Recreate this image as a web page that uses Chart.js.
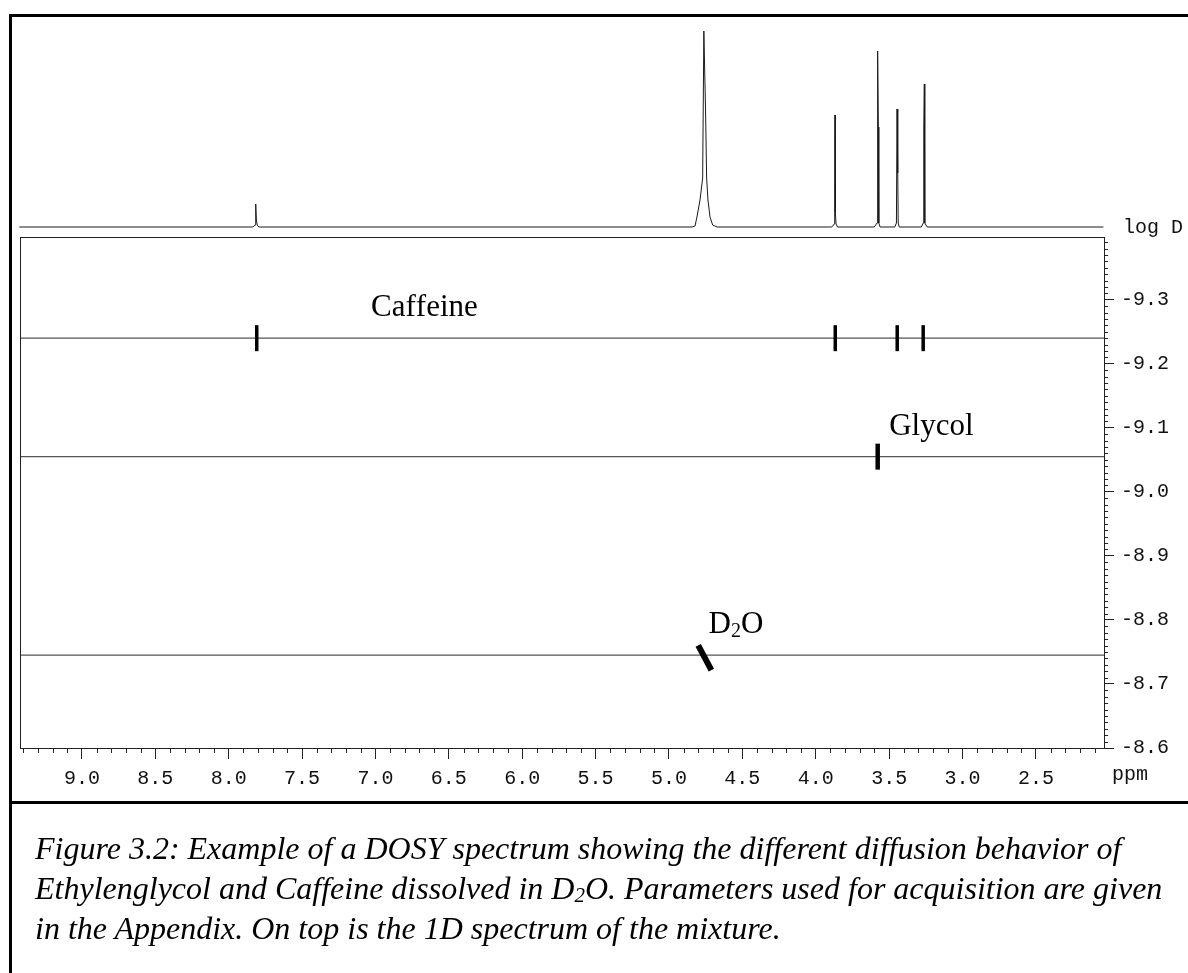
<!DOCTYPE html>
<html>
<head>
<meta charset="utf-8">
<title>DOSY spectrum</title>
<script src="https://cdn.jsdelivr.net/npm/chart.js@4.4.1/dist/chart.umd.min.js"></script>
<style>
    html, body { margin: 0; padding: 0; background: #fff; }
    body { width: 1188px; height: 973px; position: relative; overflow: hidden; }
    #dosyChart { position: absolute; left: 0; top: 0; }
    #spectrumChart { position: absolute; left: 19px; top: 17px; }
    .frame { position: absolute; background: #000; }
    #frameTop { left: 9px; top: 14px; width: 1179px; height: 3px; }
    #frameLeft { left: 9px; top: 14px; width: 3px; height: 959px; }
    #frameDivider { left: 9px; top: 801px; width: 1179px; height: 3px; }
    #caption {
        position: absolute; left: 35px; top: 828px;
        font: italic 32px 'Liberation Serif', 'Times New Roman', serif;
        line-height: 40px; color: #000; white-space: nowrap;
    }
    #caption sub { font-size: 21px; line-height: 0; vertical-align: -3px; }
</style>
</head>
<body>
<div class="frame" id="frameTop"></div>
<div class="frame" id="frameLeft"></div>
<div class="frame" id="frameDivider"></div>
<canvas id="spectrumChart" width="1085" height="212"></canvas>
<canvas id="dosyChart" width="1188" height="973"></canvas>
<div id="caption">
    Figure 3.2: Example of a DOSY spectrum showing the different diffusion behavior of<br>
    Ethylenglycol and Caffeine dissolved in D<sub>2</sub>O. Parameters used for acquisition are given<br>
    in the Appendix. On top is the 1D spectrum of the mixture.
</div>

<script>
// ========================================
// DATA
// ========================================

// Axis ranges (ppm runs right-to-left, log D grows downwards)
const PPM_LEFT = 9.422;
const PPM_RIGHT = 2.036;
const LOGD_TOP = -9.398;
const LOGD_BOTTOM = -8.6;

// Species and their diffusion coefficients (log D)
const speciesNames = ['Caffeine', 'Glycol', 'D2O'];
const speciesLogD = [-9.24, -9.055, -8.745];
const labelPpm = [7.03, 3.50, 4.73];

// Cross peaks in the 2D DOSY map
const caffeinePeakPpm = [7.809, 3.867, 3.445, 3.268];
const glycolPeakPpm = [3.578];
const waterPeakPpm = [4.756];
const waterPeakLogD = -8.741;

// 1D proton spectrum shown on top (ppm, intensity)
const spectrumPpm = [
    9.42, 7.83, 7.815, 7.812, 7.809, 7.806, 7.80, 7.79,
    4.84, 4.820, 4.807, 4.786, 4.768, 4.760, 4.748, 4.741, 4.732, 4.718, 4.700, 4.67,
    3.89, 3.872, 3.869, 3.867, 3.865, 3.860, 3.85,
    3.60, 3.581, 3.577, 3.572, 3.569, 3.56,
    3.46, 3.449, 3.445, 3.440, 3.437, 3.43,
    3.28, 3.266, 3.263, 3.259, 3.256, 3.24,
    2.04
];
const spectrumIntensity = [
    0, 0, 2, 7, 23, 7, 2, 0,
    0, 1, 10, 27, 49, 196, 114, 49, 27, 10, 2, 0,
    0, 3, 15, 112, 15, 3, 0,
    0, 4, 176, 100, 4, 0,
    0, 4, 118, 54, 4, 0,
    0, 4, 97, 143, 4, 0,
    0
];

// ========================================
// HELPERS
// ========================================

const MONO = "'Liberation Mono', 'Courier New', monospace";
const SERIF = "'Liberation Serif', 'Times New Roman', serif";

// Draw a formula like D2O with the digits as subscripts
function drawChemText(ctx, text, x, y) {
    for (const ch of text) {
        const isDigit = /[0-9]/.test(ch);
        ctx.font = isDigit ? '20px ' + SERIF : '31px ' + SERIF;
        ctx.fillText(ch, x, isDigit ? y + 4 : y);
        x += ctx.measureText(ch).width;
    }
}

// Minor ticks, frame and axis captions
const dosyDecorations = {
    id: 'dosyDecorations',
    afterDraw(chart) {
        const { ctx, chartArea, scales: { x, y } } = chart;
        ctx.save();
        ctx.strokeStyle = '#222';
        ctx.lineWidth = 1;
        ctx.beginPath();
        // minor ppm ticks every 0.1
        for (let i = Math.ceil(PPM_RIGHT * 10); i <= Math.floor(PPM_LEFT * 10); i++) {
            if (i % 5 === 0) continue;
            const px = Math.round(x.getPixelForValue(i / 10)) + 0.5;
            ctx.moveTo(px, chartArea.bottom);
            ctx.lineTo(px, chartArea.bottom + 5);
        }
        // minor log D ticks every 0.01
        for (let i = Math.round(LOGD_TOP * 100); i <= Math.round(LOGD_BOTTOM * 100); i++) {
            if (i % 10 === 0) continue;
            const v = i / 100;
            if (v < LOGD_TOP) continue;
            const py = Math.round(y.getPixelForValue(v)) + 0.5;
            ctx.moveTo(chartArea.right, py);
            ctx.lineTo(chartArea.right + 4, py);
        }
        ctx.stroke();

        // plot frame
        ctx.strokeStyle = '#222';
        ctx.strokeRect(Math.round(chartArea.left) + 0.5, Math.round(chartArea.top) + 0.5,
            Math.round(chartArea.right - chartArea.left), Math.round(chartArea.bottom - chartArea.top));

        // axis captions
        ctx.fillStyle = '#111';
        ctx.font = '20px ' + MONO;
        ctx.textAlign = 'left';
        ctx.textBaseline = 'alphabetic';
        ctx.fillText('ppm', chartArea.right + 8, chartArea.bottom + 32);
        ctx.fillText('log D', chartArea.right + 19, chartArea.top - 4);
        ctx.restore();
    },
    afterDatasetsDraw(chart) {
        const { ctx, scales: { x, y } } = chart;
        ctx.save();
        ctx.fillStyle = '#000';
        ctx.textAlign = 'left';
        ctx.textBaseline = 'alphabetic';
        speciesNames.forEach((name, i) => {
            const px = x.getPixelForValue(labelPpm[i]);
            const py = y.getPixelForValue(speciesLogD[i]) - 22;
            drawChemText(ctx, name, px, py);
        });
        ctx.restore();
    }
};

// ========================================
// CHARTS
// ========================================

Chart.defaults.font.family = MONO;
Chart.defaults.animation = false;

// 1D spectrum
new Chart(document.getElementById('spectrumChart'), {
    type: 'scatter',
    data: {
        datasets: [{
            data: spectrumPpm.map((p, i) => ({ x: p, y: spectrumIntensity[i] })),
            showLine: true,
            borderColor: '#1a1a1a',
            borderWidth: 1,
            pointRadius: 0,
            tension: 0
        }]
    },
    options: {
        responsive: false,
        events: [],
        layout: { padding: 0 },
        plugins: { legend: { display: false }, tooltip: { enabled: false } },
        scales: {
            x: { type: 'linear', display: false, reverse: true, min: PPM_RIGHT, max: PPM_LEFT },
            y: { type: 'linear', display: false, min: -2, max: 210 }
        }
    }
});

// Species lines across the whole ppm range
const speciesLines = speciesNames.map((name, i) => ({
    label: name,
    data: [{ x: PPM_LEFT, y: speciesLogD[i] }, { x: PPM_RIGHT, y: speciesLogD[i] }],
    showLine: true,
    borderColor: '#555',
    borderWidth: 1.2,
    pointRadius: 0
}));

const crossPeakStyle = {
    showLine: false,
    pointStyle: 'line',
    pointRotation: 90,
    pointBorderColor: '#000',
    pointBackgroundColor: '#000'
};

new Chart(document.getElementById('dosyChart'), {
    type: 'scatter',
    data: {
        datasets: [
            {
                ...crossPeakStyle,
                label: 'Caffeine peaks',
                data: caffeinePeakPpm.map(p => ({ x: p, y: speciesLogD[0] })),
                pointRadius: 13,
                pointBorderWidth: 3.5
            },
            {
                ...crossPeakStyle,
                label: 'Glycol peaks',
                data: glycolPeakPpm.map(p => ({ x: p, y: speciesLogD[1] })),
                pointRadius: 13,
                pointBorderWidth: 4.5
            },
            {
                ...crossPeakStyle,
                label: 'D2O peak',
                data: waterPeakPpm.map(p => ({ x: p, y: waterPeakLogD })),
                pointRadius: 14,
                pointRotation: 62,
                pointBorderWidth: 6
            },
            ...speciesLines
        ]
    },
    options: {
        responsive: false,
        events: [],
        layout: { padding: { left: 19, top: 237, right: 0, bottom: 165 } },
        plugins: { legend: { display: false }, tooltip: { enabled: false } },
        scales: {
            x: {
                type: 'linear',
                position: 'bottom',
                reverse: true,
                min: PPM_RIGHT,
                max: PPM_LEFT,
                afterFit: s => { s.height = 60; },
                border: { display: false },
                grid: { drawOnChartArea: false, drawTicks: true, tickLength: 11, color: '#222' },
                ticks: {
                    stepSize: 0.5,
                    includeBounds: false,
                    autoSkip: false,
                    maxRotation: 0,
                    padding: 8,
                    color: '#111',
                    font: { size: 20, family: MONO },
                    callback: v => v.toFixed(1)
                }
            },
            y: {
                type: 'linear',
                position: 'right',
                reverse: true,
                min: LOGD_TOP,
                max: LOGD_BOTTOM,
                afterFit: s => { s.width = 84; },
                border: { display: false },
                grid: { drawOnChartArea: false, drawTicks: true, tickLength: 10, color: '#222' },
                ticks: {
                    stepSize: 0.1,
                    includeBounds: false,
                    autoSkip: false,
                    padding: 7,
                    color: '#111',
                    font: { size: 20, family: MONO },
                    callback: v => v.toFixed(1)
                }
            }
        }
    },
    plugins: [dosyDecorations]
});
</script>
</body>
</html>
